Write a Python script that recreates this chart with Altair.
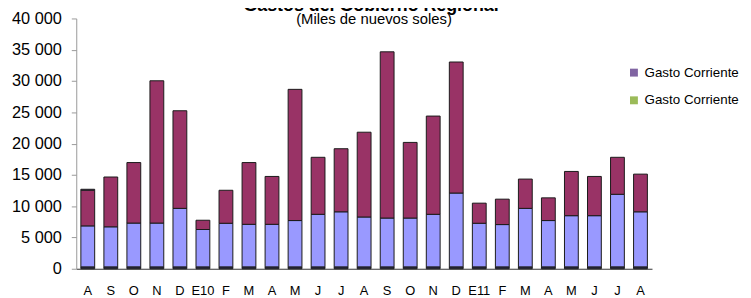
import altair as alt
import pandas as pd

months = ["A", "S", "O", "N", "D", "E10", "F", "M", "A", "M", "J", "J", "A",
          "S", "O", "N", "D", "E11", "F", "M", "A", "M", "J", "J", "A"]
base_seg = [300] * 25
blue_seg = [6550, 6400, 7000, 7000, 9350, 5970, 6970, 6800, 6800, 7400, 8400, 8800, 7970,
            7800, 7800, 8400, 11800, 6970, 6760, 9350, 7400, 8180, 8180, 11600, 8800]
maroon_seg = [5700, 7960, 9670, 22740, 15600, 1480, 5270, 9870, 7650, 20970, 9110, 10080, 13550,
              26570, 12090, 15700, 20940, 3210, 4060, 4680, 3630, 7070, 6270, 5910, 6020]
purple_seg = [150] + [0] * 24

series_keys = ["s0", "s1", "s2", "s3", "s4"]
series_colors = ["#2E2E58", "#9999FF", "#993366", "#8064A2", "#9BBB59"]
legend_label = "Gasto Corriente"

rows = []
for i in range(len(months)):
    for order, (key, vals) in enumerate(zip(series_keys[:4], [base_seg, blue_seg, maroon_seg, purple_seg])):
        if vals[i] > 0:
            rows.append({"k": f"{i:02d}", "serie": key, "orden": order, "valor": vals[i]})
df = pd.DataFrame(rows)

FONT = "Liberation Sans"
x_keys = [f"{i:02d}" for i in range(len(months))]
label_arr = "[" + ",".join(f"'{m}'" for m in months) + "]"

bars = alt.Chart(df).mark_bar(stroke="#1a1a1a", strokeWidth=1).encode(
    x=alt.X("k:N", sort=x_keys, title=None,
            scale=alt.Scale(paddingInner=0.4, paddingOuter=0.2),
            axis=alt.Axis(labelExpr=label_arr + "[toNumber(datum.value)]", labelAngle=0,
                          ticks=False, labelPadding=16, labelFontSize=13, labelFont=FONT,
                          labelColor="#000", domainColor="#333", domainWidth=1)),
    y=alt.Y("valor:Q", stack="zero", title=None,
            scale=alt.Scale(domain=[0, 40000], nice=False),
            axis=alt.Axis(values=list(range(0, 40001, 5000)),
                          labelExpr="replace(format(datum.value, ','), ',', ' ')",
                          labelFontSize=16.5, labelFont=FONT, labelColor="#000",
                          labelPadding=10, tickSize=5, tickColor="#999", domainColor="#999",
                          grid=False)),
    color=alt.Color("serie:N",
                    scale=alt.Scale(domain=series_keys, range=series_colors),
                    legend=alt.Legend(values=["s3", "s4"], title=None, orient="none",
                                      legendX=557, legendY=48, symbolType="square",
                                      symbolSize=64, symbolStrokeWidth=0, labelFontSize=13.5,
                                      labelFont=FONT, labelColor="#000", labelOffset=4,
                                      rowPadding=13, padding=0,
                                      labelExpr="'" + legend_label + "'")),
    order=alt.Order("orden:Q", sort="ascending"),
)

title_df = pd.DataFrame({"t": ["Gastos del Gobierno Regional"]})
sub_df = pd.DataFrame({"t": ["(Miles de nuevos soles)"]})

title = alt.Chart(title_df).mark_text(font=FONT, fontSize=18, fontWeight="bold", color="#000",
                                       baseline="alphabetic", align="center").encode(
    text="t:N", x=alt.value(298), y=alt.value(-8))
subtitle = alt.Chart(sub_df).mark_text(font=FONT, fontSize=15, color="#000",
                                        baseline="alphabetic", align="center").encode(
    text="t:N", x=alt.value(301), y=alt.value(6))

chart = alt.layer(bars, title, subtitle).properties(
    width=582, height=253,
    autosize=alt.AutoSizeParams(type="none"),
    padding={"left": 69, "top": 9, "right": 92, "bottom": 28},
).configure_view(stroke=None)

chart.save("out.html", embed_options={"renderer": "svg", "actions": False})
